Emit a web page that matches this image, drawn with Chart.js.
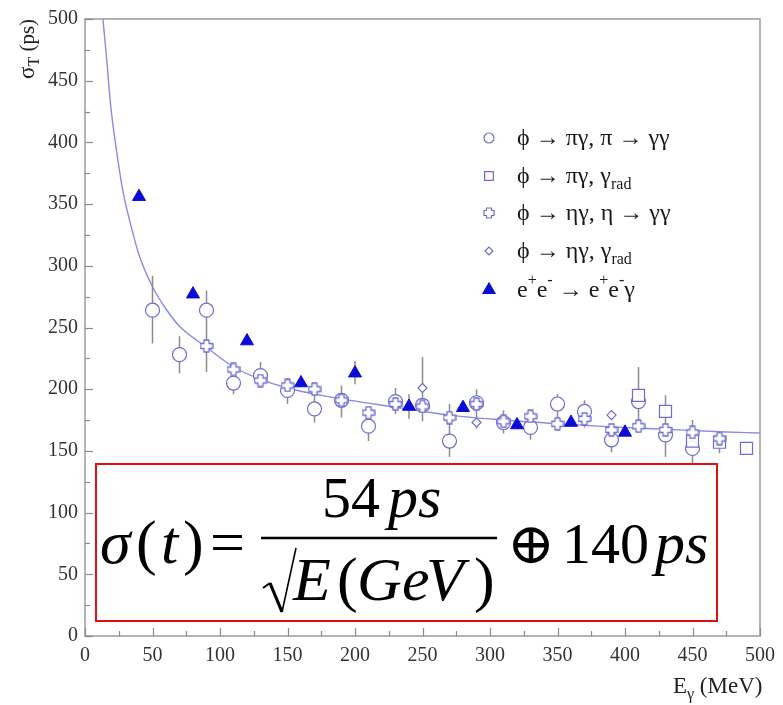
<!DOCTYPE html>
<html><head><meta charset="utf-8">
<script src="https://cdn.jsdelivr.net/npm/chart.js@4.4.1/dist/chart.umd.min.js"></script>
<style>html,body{margin:0;padding:0;background:#fff;}#wrap{width:783px;height:705px;position:relative;}</style>
</head><body><div id="wrap"><canvas id="c" width="783" height="705"></canvas></div>
<script>
// ---------- data ----------
const xTickValues = [0,50,100,150,200,250,300,350,400,450,500];
const yTickValues = [0,50,100,150,200,250,300,350,400,450,500];
const seriesLabels = ['ϕ → πγ, π → γγ','ϕ → πγ, γrad','ϕ → ηγ, η → γγ','ϕ → ηγ, γrad','e+e- → e+e-γ'];

const circleE     = [50,70,90,110,130,150,170,190,210,230,250,270,290,310,330,350,370,390,410,430,450];
const circleSigma = [264,228,264,205,211,199,184,191,170,190,187,158,189,173,169,188,182,159,190,163,152];
const squareE     = [410,430,450,470,490];
const squareSigma = [195,182,158,157,152];
const crossE      = [90,110,130,150,170,190,210,230,250,270,290,310,330,350,370,390,410,430,450,470];
const crossSigma  = [235,216,207,203,200,191,181,188,186,177,188,174,178,172,176,167,170,167,165,160];
const diamondE    = [250,290,390];
const diamondSigma= [201,173,179];
const triE        = [40,80,120,160,200,240,280,320,360,400];
const triSigma    = [356,277,239,205,213,186,185,171,173,165];
const errE    = [50,70,90,110,130,150,170,190,200,210,230,240,250,270,290,310,330,350,370,390,410,430,450,470,490];
const errLow  = [237,213,214,196,203,188,173,177,204,158,180,176,174,145,168,164,159,167,169,149,167,145,137,148,147];
const errHigh = [292,243,280,218,222,209,196,203,223,177,201,196,226,188,200,183,181,196,191,169,218,195,175,166,157];
const fitE     = [13.3,16,19,23,28,33,40,50,60,70,90,110,130,150,180,230,270,310,350,390,430,470,500];
const fitSigma = [500,468,430,396,361,337,309,283,265,251,234,218,208,201,194,185.5,179,175,172,169.5,167.5,165.5,164.5];

// ---------- styles ----------
const MARK = '#6c6cd4';
const TRI = '#0b0bd8';
const SERIF = '"Liberation Serif","DejaVu Serif",serif';

function makeCross(s, lw){
  const c = document.createElement('canvas'); c.width = s; c.height = s;
  const g = c.getContext('2d');
  const w = Math.round(s*0.38), m = (s - w)/2, a = 1, b = s-1;
  g.beginPath();
  g.moveTo(m,a); g.lineTo(m+w,a); g.lineTo(m+w,m); g.lineTo(b,m); g.lineTo(b,m+w);
  g.lineTo(m+w,m+w); g.lineTo(m+w,b); g.lineTo(m,b); g.lineTo(m,m+w); g.lineTo(a,m+w);
  g.lineTo(a,m); g.lineTo(m,m); g.closePath();
  g.fillStyle = '#fff'; g.fill();
  g.lineJoin = 'round'; g.strokeStyle = MARK; g.lineWidth = lw; g.stroke();
  return c;
}
const crossImg = makeCross(14, 1.3);
const crossImgSmall = makeCross(12, 1.2);

const pts = (xs, ys) => xs.map((x,i)=>({x:x, y:ys[i]}));
const errPts = [];
errE.forEach((e,i)=>{ errPts.push({x:e,y:errLow[i]}); errPts.push({x:e,y:errHigh[i]}); errPts.push({x:e,y:null}); });

function inkWidth(c, t){ const m = c.measureText(t); return m.actualBoundingBoxLeft + m.actualBoundingBoxRight; }

const decor = {
  id:'decor',
  beforeDraw(chart){
    const c = chart.ctx; c.save(); c.fillStyle='#fff'; c.fillRect(0,0,chart.width,chart.height); c.restore();
  },
  afterDatasetsDraw(chart){
    const c = chart.ctx, a = chart.chartArea, xs = chart.scales.x, ys = chart.scales.y;
    c.save();
    // frame
    c.strokeStyle = '#9a9a9a'; c.lineWidth = 1.5;
    c.strokeRect(a.left, a.top, a.right - a.left, a.bottom - a.top);
    // inside ticks
    c.strokeStyle = '#8a8a8a'; c.lineWidth = 1.2;
    for (let v = 0; v <= 500; v += 25){
      const L = (v % 50 === 0) ? 8 : 5;
      const px = Math.round(xs.getPixelForValue(v)) + 0.5;
      c.beginPath(); c.moveTo(px, a.bottom); c.lineTo(px, a.bottom - L); c.stroke();
      const py = Math.round(ys.getPixelForValue(v)) + 0.5;
      c.beginPath(); c.moveTo(a.left, py); c.lineTo(a.left + L, py); c.stroke();
    }
    // formula box
    c.fillStyle = '#fff'; c.fillRect(96, 464, 621, 157);
    c.strokeStyle = '#e01010'; c.lineWidth = 2; c.strokeRect(96, 464, 621, 157);
    c.fillStyle = '#000'; c.textBaseline = 'alphabetic'; c.textAlign = 'left';
    const up = 'normal 62px ' + SERIF, it = 'italic 62px ' + SERIF, num = 'normal 58px ' + SERIF, itS = 'italic 60px ' + SERIF;
    const pieces = [
      ['σ',100,563,it],['(',136,563,up],['t',161,563,it],[')',183,563,up],['=',210,563,up],
      ['54',322,517,num],['ps',388,517,itS],
      ['E',293,600,it],['(',337,600,up],['G',357,600,it],['e',402,600,it],['V',426,600,it],[')',474,600,up],
      ['140',562,563,num],['ps',655,563,itS]
    ];
    pieces.forEach(p=>{ c.font = p[3]; c.fillText(p[0], p[1], p[2]); });
    // fraction bar
    c.strokeStyle = '#000'; c.lineWidth = 2.4;
    c.beginPath(); c.moveTo(261, 538); c.lineTo(497, 538); c.stroke();
    // radical
    c.lineWidth = 2; c.lineJoin = 'miter';
    c.beginPath(); c.moveTo(263, 588); c.lineTo(270, 583); c.stroke();
    c.lineWidth = 3.2; c.beginPath(); c.moveTo(270, 583); c.lineTo(282, 612); c.stroke();
    c.lineWidth = 1.6; c.beginPath(); c.moveTo(282, 612); c.lineTo(296, 548); c.stroke();
    // oplus as text, scaled to ink width 37
    c.font = 'normal 48px "DejaVu Serif",serif';
    const fs = 48 * 37 / inkWidth(c, '⊕');
    c.font = 'normal ' + fs.toFixed(1) + 'px "DejaVu Serif",serif';
    const m = c.measureText('⊕');
    c.fillText('⊕', 513 + m.actualBoundingBoxLeft, 545 + (m.actualBoundingBoxAscent - m.actualBoundingBoxDescent)/2);

    // legend
    const lx = 489, tx = 517;
    const rows = [138, 176, 213, 251, 290];
    const H = Chart.helpers;
    c.lineWidth = 1.2; c.strokeStyle = MARK; c.fillStyle = '#fff';
    H.drawPoint(c, {pointStyle:'circle', radius:5, borderWidth:1.2, rotation:0}, lx, rows[0]);
    H.drawPoint(c, {pointStyle:'rect', radius:6.2, borderWidth:1.2, rotation:0}, lx, rows[1]);
    c.drawImage(crossImgSmall, lx - 6, rows[2] - 6);
    H.drawPoint(c, {pointStyle:'rectRot', radius:4, borderWidth:1.1, rotation:0}, lx, rows[3]);
    c.fillStyle = TRI; c.strokeStyle = TRI;
    H.drawPoint(c, {pointStyle:'triangle', radius:7, borderWidth:1, rotation:0}, lx, rows[4]);

    const LF = 24;
    const segs = [
      [['ϕ → πγ, π → γγ','n']],
      [['ϕ → πγ, γ','n'],['rad','sub']],
      [['ϕ → ηγ, η → γγ','n']],
      [['ϕ → ηγ, γ','n'],['rad','sub']],
      [['e','n'],['+','sup'],['e','n'],['-','sup'],[' → e','n'],['+','sup'],['e','n'],['-','sup'],['γ','n']]
    ];
    c.fillStyle = '#1a1a1a';
    segs.forEach((row, r)=>{
      let x = tx; const base = rows[r] + 7;
      row.forEach(s=>{
        let dy = 0;
        if (s[1]==='n') c.font = 'normal ' + LF + 'px ' + SERIF;
        else { c.font = 'normal 16px ' + SERIF; dy = s[1]==='sub' ? 6 : -12; }
        c.fillText(s[0], x, base + dy);
        x += c.measureText(s[0]).width;
      });
    });
    c.restore();
  },
  afterDraw(chart){
    const c = chart.ctx; c.save(); c.fillStyle = '#222'; c.textBaseline='alphabetic'; c.textAlign='left';
    // y title
    c.translate(34, 79); c.rotate(-Math.PI/2);
    c.font = 'normal 23px ' + SERIF; c.fillText('σ', 0, 0);
    let x = c.measureText('σ').width;
    c.font = 'normal 16px ' + SERIF; c.fillText('T', x, 5); x += c.measureText('T').width;
    c.font = 'normal 21px ' + SERIF; c.fillText(' (ps)', x, 0);
    c.restore();
    c.save(); c.fillStyle = '#222';
    c.font = 'normal 23px ' + SERIF; c.fillText('E', 673, 693);
    let x2 = 673 + c.measureText('E').width;
    c.font = 'normal 16px ' + SERIF; c.fillText('γ', x2, 699); x2 += c.measureText('γ').width;
    c.font = 'normal 23px ' + SERIF; c.fillText(' (MeV)', x2, 693);
    c.restore();
  }
};

const tickFont = {family:'"Liberation Serif","DejaVu Serif",serif', size:20};
new Chart(document.getElementById('c').getContext('2d'), {
  type:'scatter',
  data:{datasets:[
    {label:seriesLabels[4], data:pts(triE,triSigma), pointStyle:'triangle', pointRadius:7.5, backgroundColor:TRI, borderColor:TRI, borderWidth:1},
    {label:seriesLabels[2], data:pts(crossE,crossSigma), pointStyle:crossImg, pointRadius:7},
    {label:seriesLabels[3], data:pts(diamondE,diamondSigma), pointStyle:'rectRot', pointRadius:4.5, backgroundColor:'#fff', borderColor:MARK, borderWidth:1.2},
    {label:seriesLabels[1], data:pts(squareE,squareSigma), pointStyle:'rect', pointRadius:8.5, backgroundColor:'rgba(255,255,255,0.9)', borderColor:MARK, borderWidth:1.2},
    {label:seriesLabels[0], data:pts(circleE,circleSigma), pointStyle:'circle', pointRadius:7, backgroundColor:'#fff', borderColor:MARK, borderWidth:1.2},
    {label:'errors', type:'line', data:errPts, showLine:true, spanGaps:false, borderColor:'#8c8c8c', borderWidth:1.5, pointRadius:0},
    {label:'fit', type:'line', data:pts(fitE,fitSigma), showLine:true, borderColor:'#8a8ae6', borderWidth:1.4, pointRadius:0, cubicInterpolationMode:'monotone'}
  ]},
  options:{
    responsive:false, animation:false, devicePixelRatio:1, events:[],
    layout:{padding:{top:13,right:21,left:0,bottom:0}},
    plugins:{legend:{display:false}, tooltip:{enabled:false}},
    scales:{
      x:{type:'linear', min:0, max:500,
         afterBuildTicks:s=>{ s.ticks = xTickValues.map(v=>({value:v})); },
         ticks:{font:tickFont, color:'#333', padding:8, maxRotation:0, autoSkip:false, callback:v=>String(v)},
         grid:{display:false, drawTicks:false}, border:{display:false},
         afterFit:s=>{ s.height = 69; }},
      y:{type:'linear', min:0, max:500,
         afterBuildTicks:s=>{ s.ticks = yTickValues.map(v=>({value:v})); },
         ticks:{font:tickFont, color:'#333', padding:7, autoSkip:false, callback:v=>String(v)},
         grid:{display:false, drawTicks:false}, border:{display:false},
         afterFit:s=>{ s.width = 85; }}
    }
  },
  plugins:[decor]
});
</script></body></html>
